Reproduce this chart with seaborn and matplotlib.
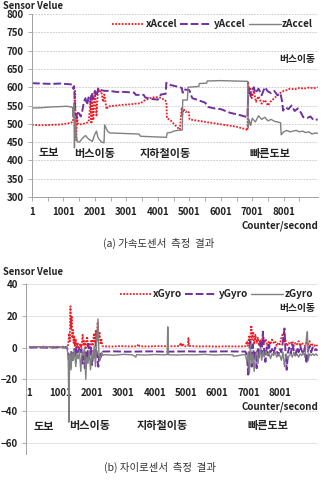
import numpy as np
import pandas as pd
import matplotlib
matplotlib.use("Agg")
import matplotlib.pyplot as plt
import seaborn as sns

# ---- accelerometer (top) ----
acc_t_x = [1, 300, 600, 900, 1200, 1300, 1340, 1370, 1390, 1410, 1430, 1460, 1500, 1600, 1700,
           1800, 1860, 1890, 1910, 1950, 2000, 2050, 2100, 2150, 2200, 2260, 2300, 2370, 2420,
           2470, 2700, 2900, 3100, 3300, 3450, 3600, 3750, 3900, 4050, 4150, 4230, 4270, 4290,
           4400, 4550, 4700, 4760, 4780, 4820, 4880, 4950, 4990, 5010, 5300, 5600, 5900, 6200,
           6500, 6800, 6850, 6870, 6900, 6940, 6980, 7050, 7120, 7200, 7300, 7400, 7500, 7600,
           7700, 7800, 7900, 8000, 8100, 8200, 8350, 8500, 8650, 8800, 8950, 9080]
acc_x = [497, 496, 497, 498, 502, 505, 540, 590, 470, 455, 530, 500, 498, 500, 501,
         505, 560, 500, 580, 510, 590, 520, 597, 585, 590, 560, 580, 540, 548,
         548, 550, 552, 553, 555, 556, 565, 570, 573, 572, 568, 565, 560, 515,
         510, 496, 484, 545, 525, 540, 532, 535, 530, 512, 508, 504, 500, 496,
         492, 485, 482, 615, 585, 600, 570, 590, 560, 575, 555, 565, 550, 562,
         570, 578, 585, 590, 592, 596, 594, 598, 596, 599, 597, 600]

acc_t_y = [1, 300, 600, 900, 1200, 1300, 1320, 1340, 1360, 1380, 1420, 1460, 1500, 1550, 1600,
           1650, 1700, 1750, 1800, 1850, 1900, 1950, 2000, 2050, 2100, 2150, 2200, 2300, 2450,
           2700, 2950, 3250, 3300, 3550, 3600, 3800, 4000, 4100, 4250, 4270, 4400, 4600, 4760,
           4790, 4820, 5000, 5080, 5100, 5300, 5500, 5600, 5800, 6000, 6300, 6600, 6850, 6870,
           6900, 6950, 7000, 7050, 7100, 7200, 7300, 7400, 7500, 7600, 7700, 7800, 7900, 7950,
           7980, 8050, 8150, 8250, 8350, 8450, 8550, 8620, 8750, 8850, 8950, 9080]
acc_y = [611, 610, 609, 610, 608, 607, 595, 603, 560, 525, 515, 530, 528, 520, 535,
         560, 570, 552, 572, 560, 585, 568, 590, 575, 595, 588, 592, 590, 590,
         587, 587, 585, 579, 579, 572, 568, 566, 580, 582, 612, 606, 602, 598,
         585, 594, 592, 573, 570, 564, 558, 546, 542, 540, 530, 524, 518, 580,
         598, 575, 592, 600, 584, 596, 578, 600, 588, 584, 590, 578, 583, 560,
         536, 545, 540, 550, 535, 542, 530, 518, 516, 520, 510, 512]

acc_t_z = [1, 300, 600, 900, 1100, 1290, 1310, 1330, 1350, 1370, 1400, 1430, 1460, 1510,
           1600, 1700, 1800, 1920, 1990, 2050, 2100, 2150, 2210, 2290, 2310, 2400, 2470,
           2800, 3100, 3400, 3450, 3700, 4000, 4270, 4300, 4440, 4500, 4700, 4780, 4790,
           4940, 4960, 5300, 5320, 5550, 5570, 6000, 6400, 6860, 6870, 6900, 6950, 7000,
           7100, 7200, 7300, 7400, 7500, 7600, 7700, 7800, 7900, 7920, 8000, 8100, 8200,
           8300, 8400, 8500, 8600, 8700, 8800, 8900, 9000, 9080]
acc_z = [543, 544, 546, 547, 548, 545, 520, 555, 434, 520, 475, 455, 450, 450,
         460, 468, 458, 452, 470, 480, 462, 456, 450, 448, 497, 480, 475,
         474, 473, 472, 466, 465, 464, 463, 475, 477, 480, 483, 483, 565,
         565, 600, 602, 610, 611, 617, 618, 617, 616, 490, 512, 495, 515,
         505, 522, 512, 518, 508, 512, 507, 505, 503, 470, 478, 482, 478,
         480, 482, 478, 480, 476, 478, 472, 475, 474]

# ---- gyroscope (bottom) ----
gyr_t_x = [1, 150, 300, 450, 600, 750, 900, 1050, 1200, 1240, 1270, 1290, 1310, 1330, 1350,
           1370, 1390, 1410, 1430, 1450, 1480, 1510, 1540, 1580, 1620, 1660, 1700, 1730, 1760,
           1800, 1840, 1870, 1900, 1940, 1980, 2020, 2060, 2090, 2120, 2150, 2180, 2210, 2240,
           2270, 2300, 2330, 2360, 2600, 2900, 3200, 3450, 3480, 3520, 3800, 4100, 4400, 4800,
           4830, 4860, 4900, 4940, 5060, 5080, 5100, 5400, 5700, 6000, 6300, 6600, 6900, 6950,
           6980, 7020, 7050, 7090, 7110, 7150, 7180, 7220, 7260, 7300, 7340, 7380, 7420, 7460,
           7500, 7550, 7600, 7650, 7700, 7750, 7800, 7850, 7900, 7950, 8000, 8050, 8100, 8130,
           8180, 8230, 8280, 8330, 8400, 8450, 8500, 8550, 8600, 8650, 8700, 8750, 8800, 8850,
           8900, 8950, 9000, 9050, 9100, 9150, 9200]
gyr_x = [0.3, 0.5, 0.2, 0.6, 0.3, 0.5, 0.2, 0.5, 0.3, 2, 9, 4, 26, 12, 20,
         6, 11, 3, 7, 1, 5, 0, 3, -1, 2, 0, 8, 1, 4,
         -1, 7, 2, 3, -1, 5, 1, 9, 3, 11, 4, 16, 6, 10,
         2, 5, 1, 0.8, 0.6, 0.9, 0.7, 0.8, 2.2, 0.8, 0.7, 0.9, 0.8, 0.9,
         3, 0.8, 2.5, 0.7, 0.9, 6, 1, 0.7, 0.8, 0.6, 0.8, 0.7, 0.8, 4,
         1, 7, 3, 14, 5, 10, 2, 8, 3, 6, 1, 5, 2, 8,
         3, 5, 1, 4, 2, 5, 3, 4, 1, 3, 2, 6, 9, 3,
         5, 1, 3, 2, 4, 1, 3, 2, 4, 1, 3, 2, 1, 3,
         2, 4, 1, 2, 1, 2, 1]

gyr_t_y = [1, 300, 600, 900, 1200, 1240, 1270, 1290, 1310, 1340, 1370, 1400, 1430, 1470, 1500,
           1540, 1580, 1620, 1660, 1700, 1730, 1770, 1800, 1840, 1880, 1920, 1960, 2000, 2040,
           2080, 2120, 2160, 2200, 2240, 2280, 2320, 2360, 2700, 3100, 3500, 3900, 4300, 4700,
           5100, 5500, 5900, 6300, 6700, 6900, 6950, 6990, 7020, 7060, 7100, 7140, 7180, 7220,
           7260, 7300, 7340, 7380, 7420, 7460, 7500, 7540, 7580, 7620, 7660, 7700, 7750, 7800,
           7850, 7900, 7950, 8000, 8050, 8100, 8150, 8180, 8220, 8260, 8300, 8350, 8400, 8450,
           8500, 8550, 8600, 8650, 8700, 8750, 8800, 8850, 8900, 8950, 9000, 9050, 9100, 9150,
           9200]
gyr_y = [0, 0.1, -0.1, 0.1, 0, -3, -15, -5, -12, -2, -9, -4, -1, -6, 0,
         -3, -1, -4, -1, -10, -2, -13, -3, -8, 2, -5, 0, -11, -2,
         -7, 3, -5, -12, -3, -6, -2, -2.5, -2.4, -2.6, -2.5, -2.4, -2.6, -2.5,
         -2.4, -2.6, -2.5, -2.4, -2.5, -2.5, -5, -17, -3, 5, -12, 2, -8, -2,
         -13, -1, -6, 3, -4, 10, -2, -9, 0, -5, 2, -3, -1, -4,
         0, -2, -5, -1, -3, 4, 12, -2, -14, -3, 0, -4, 2, -2,
         -5, 0, -3, 1, -2, -4, 0, -10, -2, 1, -3, 0, -2, -1,
         -2]

gyr_t_z = [1, 150, 300, 450, 600, 750, 900, 1050, 1200, 1240, 1260, 1280, 1300, 1330, 1360,
           1400, 1440, 1480, 1520, 1560, 1600, 1640, 1680, 1720, 1760, 1800, 1830, 1870, 1910,
           1950, 1990, 2030, 2070, 2110, 2150, 2190, 2220, 2260, 2300, 2340, 2380, 2700, 3000,
           3300, 3400, 3420, 3700, 4000, 4300, 4400, 4420, 4440, 4700, 5000, 5300, 5600, 5900,
           6200, 6500, 6520, 6800, 6900, 6950, 6990, 7030, 7060, 7100, 7140, 7180, 7220, 7260,
           7300, 7340, 7380, 7420, 7460, 7500, 7550, 7600, 7650, 7700, 7750, 7800, 7850, 7900,
           7950, 8000, 8050, 8100, 8150, 8200, 8250, 8300, 8350, 8400, 8450, 8500, 8550, 8600,
           8650, 8700, 8750, 8800, 8850, 8880, 8910, 8950, 9000, 9050, 9100, 9150, 9200]
gyr_z = [0.5, 0.3, 0.6, 0.2, 0.4, 0.3, 0.7, 0.2, 0.4, -6, -47, -10, -4, -14, -3,
         -8, -2, -12, -4, -7, -2, -15, -3, -5, 0, -20, -6, -10, -2,
         -14, -4, -8, 1, -12, 5, 18, -4, -8, -3, -5, -4.5, -4.8, -4.3,
         -4.6, -6, -4.5, -4.7, -4.4, -4.6, -4.5, 13, -4.5, -4.7, -4.5, -4.6, -4.3, -4.7,
         -4.5, -4.6, -5.5, -4.6, -4.5, -9, -3, -16, 2, -10, -4, -15, -6, -2,
         -10, -5, 0, -8, -3, -6, -2, -5, -3, -7, -4, -5, -3, -6,
         -4, -5, -8, -3, -12, -4, -7, -5, -4, -6, -3, -5, -4, -6,
         -4, -5, -3, -6, 6, 10, -8, -4, -5, -4, -5, -4, -5]

acc_ticks = [1, 1001, 2001, 3001, 4001, 5001, 6001, 7001, 8001]
acc_yticks = list(range(300, 801, 50))
gyr_yticks = [-60, -40, -20, 0, 20, 40]
phases = ["도보", "버스이동", "지하철이동", "빠른도보"]

W, H = 323, 483
sns.set_theme(style="white")
plt.rcParams['font.family'] = ['Noto Sans CJK KR', 'DejaVu Sans']
txt = "#222222"
red, purple, grey = "#ee1c25", "#7030a0", "#808080"

fig = plt.figure(figsize=(W / 100, H / 100), dpi=100)


def fx(px):
    return px / W


def fy(py):
    return 1 - py / H


def style_lines(ax, names, ts, vals):
    sns.lineplot(x=ts[0], y=vals[0], ax=ax, color=red, linestyle=(0, (1, 0.8)),
                 linewidth=1.3, label=names[0], estimator=None, sort=False)
    sns.lineplot(x=ts[1], y=vals[1], ax=ax, color=purple, linestyle=(0, (4, 1.5)),
                 linewidth=1.4, label=names[1], estimator=None, sort=False)
    sns.lineplot(x=ts[2], y=vals[2], ax=ax, color=grey, linestyle="-",
                 linewidth=1.0, label=names[2], estimator=None, sort=False)
    ax.legend(ncol=3, loc="upper right", bbox_to_anchor=(1.0, 1.0), frameon=False,
              handlelength=3.2, handletextpad=0.15, columnspacing=0.3,
              borderaxespad=0.1, prop={"size": 7.2, "weight": "bold"}, labelcolor=txt)


# ---------- top: accelerometer ----------
ax1 = fig.add_axes([fx(32), fy(197), fx(318) - fx(32), fy(14) - fy(197)])
style_lines(ax1, ["xAccel", "yAccel", "zAccel"],
            [acc_t_x, acc_t_y, acc_t_z], [acc_x, acc_y, acc_z])
ax1.set_xlim(1, 9090)
ax1.set_ylim(300, 800)
ax1.set_yticks(acc_yticks)
ax1.set_xticks(acc_ticks)
ax1.set_xticks([t + 500 for t in acc_ticks], minor=True)
ax1.set_xticklabels([str(t) for t in acc_ticks])
ax1.grid(axis="y", color="#c4c4c4", linestyle=(0, (2, 1.5)), linewidth=0.6)
ax1.set_axisbelow(True)

# ---------- bottom: gyroscope ----------
ax2 = fig.add_axes([fx(26), fy(454), fx(318) - fx(26), fy(284) - fy(454)])
style_lines(ax2, ["xGyro", "yGyro", "zGyro"],
            [gyr_t_x, gyr_t_y, gyr_t_z], [gyr_x, gyr_y, gyr_z])
ax2.set_xlim(-110, 9220)
ax2.set_ylim(-67, 40)
ax2.set_yticks(gyr_yticks)
ax2.set_xticks(acc_ticks)
ax2.set_xticklabels([str(t) for t in acc_ticks])
ax2.grid(axis="y", color="#dedede", linestyle="-", linewidth=0.6)
ax2.set_axisbelow(True)
ax2.spines["bottom"].set_position(("data", -24))
ax2.spines["bottom"].set_visible(False)

for ax in (ax1, ax2):
    ax.set_xlabel("")
    ax.set_ylabel("")
    for s in ("top", "right"):
        ax.spines[s].set_visible(False)
    ax.spines["left"].set_color("#a0a0a0")
    ax.spines["left"].set_linewidth(0.7)
    ax.spines["bottom"].set_color("#a0a0a0")
    ax.spines["bottom"].set_linewidth(0.7)
    ax.tick_params(axis="y", which="both", left=True, length=3, width=0.6, color="#a0a0a0",
                   pad=3, labelsize=7, labelcolor=txt)
    ax.tick_params(axis="x", which="both", bottom=True, length=3, width=0.6, color="#a0a0a0",
                   pad=4, labelsize=7, labelcolor=txt)
    for lab in ax.get_xticklabels() + ax.get_yticklabels():
        lab.set_fontweight("bold")
ax2.tick_params(axis="x", which="both", length=0, pad=2)

# ---------- texts ----------
bold = dict(color=txt, fontweight="bold")
fig.text(fx(3), fy(6), "Sensor Velue", ha="left", va="center", fontsize=6.8, **bold)
fig.text(fx(3), fy(272), "Sensor Velue", ha="left", va="center", fontsize=6.8, **bold)
fig.text(fx(318), fy(226), "Counter/second", ha="right", va="center", fontsize=7, **bold)
fig.text(fx(318), fy(407), "Counter/second", ha="right", va="center", fontsize=7, **bold)
fig.text(fx(297), fy(59), "버스이동", ha="center", va="center", fontsize=7, **bold)
fig.text(fx(297), fy(308), "버스이동", ha="center", va="center", fontsize=7, **bold)

for name, px in zip(phases, [49, 94.5, 165, 270]):
    fig.text(fx(px), fy(153), name, ha="center", va="center", fontsize=8, **bold)
for name, px in zip(phases, [43.5, 90, 162, 267.5]):
    fig.text(fx(px), fy(426), name, ha="center", va="center", fontsize=8, **bold)

fig.text(fx(159), fy(243), "(a) 가속도센서  측정  결과", ha="center", va="center",
         fontsize=7.5, color="#333333")
fig.text(fx(160), fy(467), "(b) 자이로센서  측정  결과", ha="center", va="center",
         fontsize=7.5, color="#333333")

fig.savefig("out.png", dpi=100)
